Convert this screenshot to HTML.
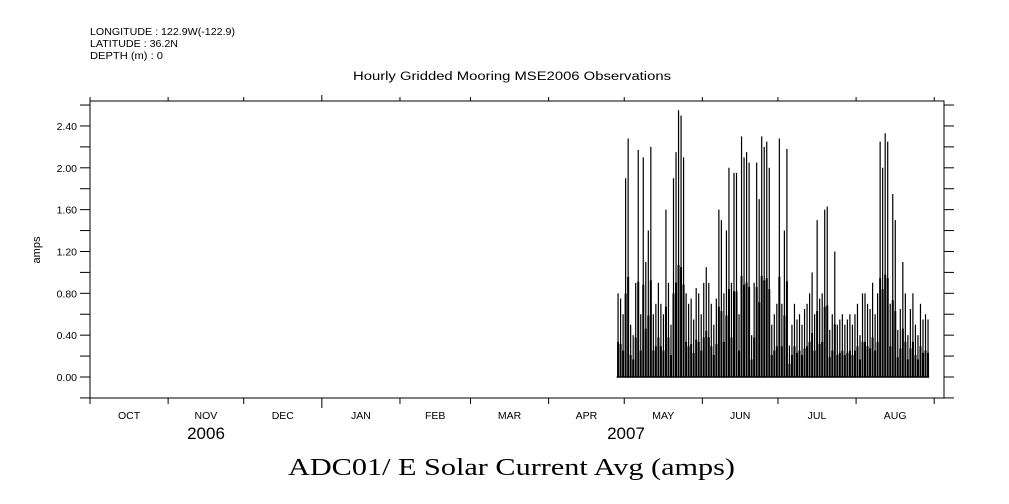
<!DOCTYPE html>
<html><head><meta charset="utf-8"><style>
body{margin:0;background:#fff;}
svg{display:block;font-family:"Liberation Sans",sans-serif;}
</style></head><body>
<svg id="chart" width="1009" height="504" viewBox="0 0 1009 504">
<g font-size="10.5" fill="#000">
<text x="90" y="35" textLength="145" lengthAdjust="spacingAndGlyphs">LONGITUDE : 122.9W(-122.9)</text>
<text x="90" y="47" textLength="88" lengthAdjust="spacingAndGlyphs">LATITUDE : 36.2N</text>
<text x="90" y="59" textLength="73" lengthAdjust="spacingAndGlyphs">DEPTH (m) : 0</text>
</g>
<text x="353" y="80" font-size="11.5" textLength="318" lengthAdjust="spacingAndGlyphs">Hourly Gridded Mooring MSE2006 Observations</text>
<text x="288" y="475" font-size="24" textLength="447" lengthAdjust="spacingAndGlyphs" font-family="Liberation Serif, serif">ADC01/ E Solar Current Avg (amps)</text>
<text transform="translate(40,250) rotate(-90)" font-size="11" text-anchor="middle">amps</text>
<g id="axes"></g>
<g id="data"></g>
</svg>
<script>
const monthLabels=["OCT","NOV","DEC","JAN","FEB","MAR","APR","MAY","JUN","JUL","AUG"];
const monthDays=[31,30,31,31,28,31,30,31,30,31,31];
const yearLabels=["2006","2007"];
const yTicks=[0,0.4,0.8,1.2,1.6,2.0,2.4];
const startDay=209;
const peaks=[0.8,0.75,0.6,1.9,2.28,0.5,
0.4,0.9,2.17,0.6,2.1,1.1,1.4,2.2,0.6,0.7,0.9,0.7,0.6,1.6,0.9,
0.5,1.9,2.15,2.55,2.5,2.1,0.8,0.7,0.75,
0.55,0.85,0.8,0.6,0.9,1.05,0.9,0.7,0.5,0.75,1.6,1.5,0.8,1.4,2.0,0.9,1.95,1.95,0.6,
2.3,2.1,2.15,2.05,0.4,0.9,2.05,1.7,2.3,2.2,2.25,2.0,
0.5,0.6,0.7,2.28,0.7,1.4,2.18,0.3,0.5,0.7,
0.55,0.6,0.5,0.65,0.7,0.8,1.0,0.6,1.5,0.75,0.8,1.6,1.63,0.45,0.6,1.2,0.5,0.55,0.6,0.5,
0.55,0.6,0.5,0.6,0.7,0.4,0.8,0.8,0.7,0.65,0.9,0.6,0.8,
2.25,2.0,2.33,2.25,0.7,1.75,1.5,
0.45,0.65,1.1,0.8,0.4,0.65,0.8,0.5,0.4,0.7,0.55,0.6,0.55];
const mids=peaks.map(p=>p*0.42);
const X0=90,X1=944,YT=101,YB=398;
const pxDay=2.52;
const x=d=>X0+d*pxDay;
const y=v=>377-v*104.6;
const NS="http://www.w3.org/2000/svg";
const ax=document.getElementById('axes'),dg=document.getElementById('data');
function el(tag,attrs,parent){const e=document.createElementNS(NS,tag);for(const k in attrs)e.setAttribute(k,attrs[k]);parent.appendChild(e);return e;}
let frame=el('rect',{x:X0,y:YT,width:X1-X0,height:YB-YT,fill:'none',stroke:'#000','stroke-width':1},ax);


for(let i=-1;i<=13;i++){const v=i*0.2,yy=y(v);if(yy<YT||yy>YB)continue;
 let t=el('line',{x1:X0-10,x2:X0,y1:yy,y2:yy,stroke:'#000'},ax);
 
 
 let t2=el('line',{x1:X1,x2:X1+10,y1:yy,y2:yy,stroke:'#000'},ax);
 
 }
yTicks.forEach(v=>{let t=el('text',{x:X0-13,y:y(v)+4,'font-size':10.5,'text-anchor':'end'},ax);t.textContent=v.toFixed(2);
 
 });
let d=0;
for(let i=0;i<=monthDays.length;i++){const xx=x(d);const big=(i==3);
 let t=el('line',{x1:xx,x2:xx,y1:YB,y2:YB+(big?10:6),stroke:'#000'},ax);
 
 
 let tt=el('line',{x1:xx,x2:xx,y1:YT,y2:YT-(big?6:4),stroke:'#000'},ax);
 
 
 if(i<monthDays.length){let l=el('text',{x:x(d+monthDays[i]/2),y:419,'font-size':10.5,'text-anchor':'middle'},ax);l.textContent=monthLabels[i];
 
 
 d+=monthDays[i];}}
[[206,yearLabels[0]],[626,yearLabels[1]]].forEach(([xx,s])=>{let t=el('text',{x:xx,y:439,'font-size':17,'text-anchor':'middle'},ax);t.textContent=s;
 
 });
let base=el('line',{x1:x(startDay),x2:x(startDay+peaks.length),y1:y(0),y2:y(0),stroke:'#000','stroke-width':1.5},dg);


peaks.forEach((p,i)=>{const dd=startDay+i;
 let r=el('rect',{x:x(dd+0.15),y:y(mids[i]),width:pxDay*0.8,height:y(0)-y(mids[i]),fill:'#000'},dg);
 
 
 let l=el('line',{x1:x(dd+0.55),x2:x(dd+0.55),y1:y(0),y2:y(p),stroke:'#000','stroke-width':1.2},dg);
 
 });
</script>
</body></html>
